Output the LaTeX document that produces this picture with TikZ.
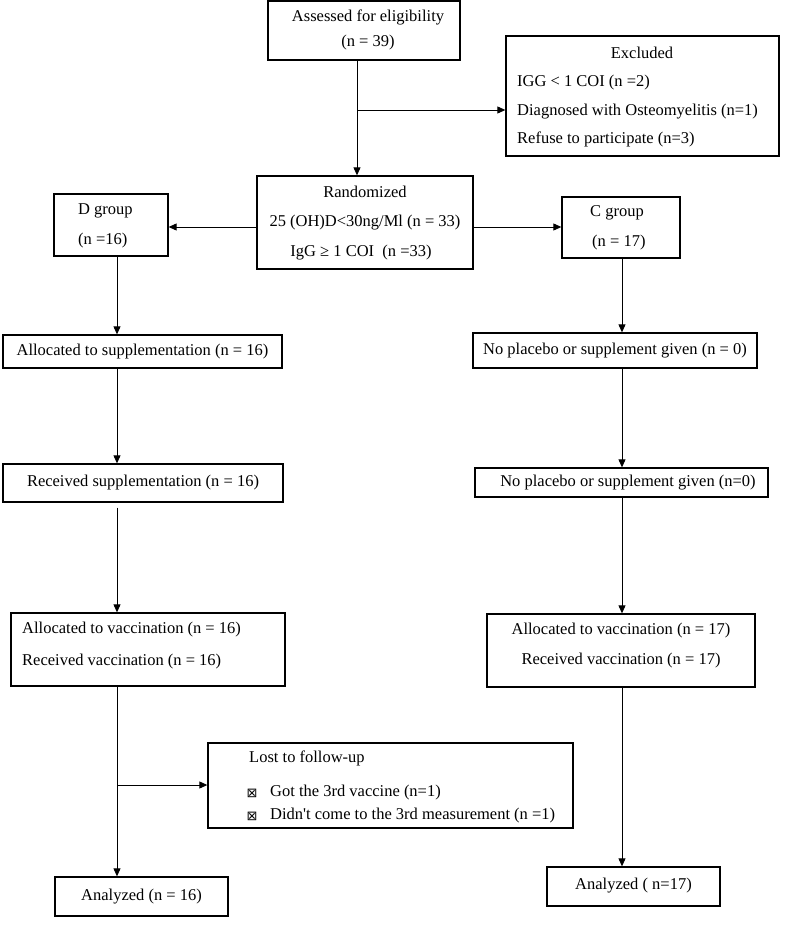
\documentclass[tikz,border=0pt]{standalone}
\usepackage{fontspec}
\setmainfont{Liberation Serif}
\newfontfamily\djv{DejaVu Sans}
\usetikzlibrary{arrows.meta}
\begin{document}
\begin{tikzpicture}[x=1pt,y=-1pt,
  box/.style={draw, line width=1.3pt, rectangle, inner sep=0pt},
  txt/.style={inner sep=0pt, font=\fontsize{16.5}{30}\selectfont},
  bullet/.style={inner sep=0pt, font=\djv\fontsize{13}{13}\selectfont},
  conn/.style={line width=0.9pt, -{Triangle[length=8pt,width=7pt]}}]
\useasboundingbox (0,0) rectangle (788,932);
\coordinate (xl) at (117,0);
\coordinate (xc) at (357,0);
\coordinate (xr) at (622,0);
% boxes
\node[box, minimum width=192, minimum height=59] (assessed) at (364,30.5) {};
\node[box, minimum width=273, minimum height=120] (excl) at (642.5,96) {};
\node[box, minimum width=216, minimum height=93] (rand) at (365,222.5) {};
\node[box, minimum width=114, minimum height=62] (dg) at (111,225) {};
\node[box, minimum width=118, minimum height=61] (cg) at (621,227.5) {};
\node[box, minimum width=279, minimum height=33] (as) at (142.5,351.5) {};
\node[box, minimum width=284, minimum height=35] (np1) at (615,350.5) {};
\node[box, minimum width=280, minimum height=38] (rs) at (143,483) {};
\node[box, minimum width=293, minimum height=29] (np2) at (621.5,482.5) {};
\node[box, minimum width=274, minimum height=73] (avl) at (148,649.5) {};
\node[box, minimum width=268, minimum height=73] (avr) at (621,650.5) {};
\node[box, minimum width=365, minimum height=85] (lost) at (390.5,785.5) {};
\node[box, minimum width=173, minimum height=39] (anl) at (141.5,896.5) {};
\node[box, minimum width=173, minimum height=39] (anr) at (633.5,886.5) {};
% texts
\node[txt] (assessedT1) at (368,17) {Assessed for eligibility};
\node[txt] (assessedT2) at (368,43) {(n = 39)};
\node[txt] (exclT1) at (642,53) {Excluded};
\node[txt, anchor=west] (exclT2) at (517,83) {IGG < 1 COI (n =2)};
\node[txt, anchor=west] (exclT3) at (517,112) {Diagnosed with Osteomyelitis (n=1)};
\node[txt, anchor=west] (exclT4) at (517,139) {Refuse to participate (n=3)};
\node[txt] (randT1) at (365,192) {Randomized};
\node[txt] (randT2) at (365,223) {25 (OH)D<30ng/Ml (n = 33)};
\node[txt] (randT3) at (361,253) {IgG ≥ 1 COI~ (n =33)};
\node[txt, anchor=west] (dgT1) at (78,211) {D group};
\node[txt, anchor=west] (dgT2) at (78,241) {(n =16)};
\node[txt, anchor=west] (cgT1) at (590,213) {C group};
\node[txt, anchor=west] (cgT2) at (592,243) {(n = 17)};
\node[txt] (asT) at (142.5,352) {Allocated to supplementation (n = 16)};
\node[txt] (np1T) at (615,351) {No placebo or supplement given (n = 0)};
\node[txt] (rsT) at (143,483) {Received supplementation (n = 16)};
\node[txt] (np2T) at (628,483) {No placebo or supplement given (n=0)};
\node[txt, anchor=west] (avlT1) at (22,630) {Allocated to vaccination (n = 16)};
\node[txt, anchor=west] (avlT2) at (22,662) {Received vaccination (n = 16)};
\node[txt] (avrT1) at (621,631) {Allocated to vaccination (n = 17)};
\node[txt] (avrT2) at (621,661) {Received vaccination (n = 17)};
\node[txt, anchor=west] (lostT1) at (249,758) {Lost to follow-up};
\node[bullet] (lostB1) at (252,793) {⊠};
\node[bullet] (lostB2) at (252,816) {⊠};
\node[txt, anchor=west] (lostT2) at (270,793) {Got the 3rd vaccine (n=1)};
\node[txt, anchor=west] (lostT3) at (270,816) {Didn\textquotesingle t come to the 3rd measurement (n =1)};
\node[txt] (anlT) at (141.5,897) {Analyzed (n = 16)};
\node[txt] (anrT) at (633.5,886) {Analyzed ( n=17)};
% connectors
\draw[conn] (assessed.south -| xc) -- (rand.north -| xc);
\coordinate (b1) at (357,110);
\draw[conn] (b1) -- (excl.west |- b1);
\coordinate (rl) at (257,227);
\draw[conn] (rand.west |- rl) -- (dg.east |- rl);
\draw[conn] (rand.east |- rl) -- (cg.west |- rl);
\draw[conn] (dg.south -| xl) -- (as.north -| xl);
\draw[conn] (as.south -| xl) -- (rs.north -| xl);
\draw[conn, shorten <=5pt] (rs.south -| xl) -- (avl.north -| xl);
\draw[conn] (avl.south -| xl) -- (anl.north -| xl);
\coordinate (b2) at (117,785);
\draw[conn] (b2) -- (lost.west |- b2);
\draw[conn] (cg.south -| xr) -- (np1.north -| xr);
\draw[conn] (np1.south -| xr) -- (np2.north -| xr);
\draw[conn] (np2.south -| xr) -- (avr.north -| xr);
\draw[conn] (avr.south -| xr) -- (anr.north -| xr);
\end{tikzpicture}
\end{document}
